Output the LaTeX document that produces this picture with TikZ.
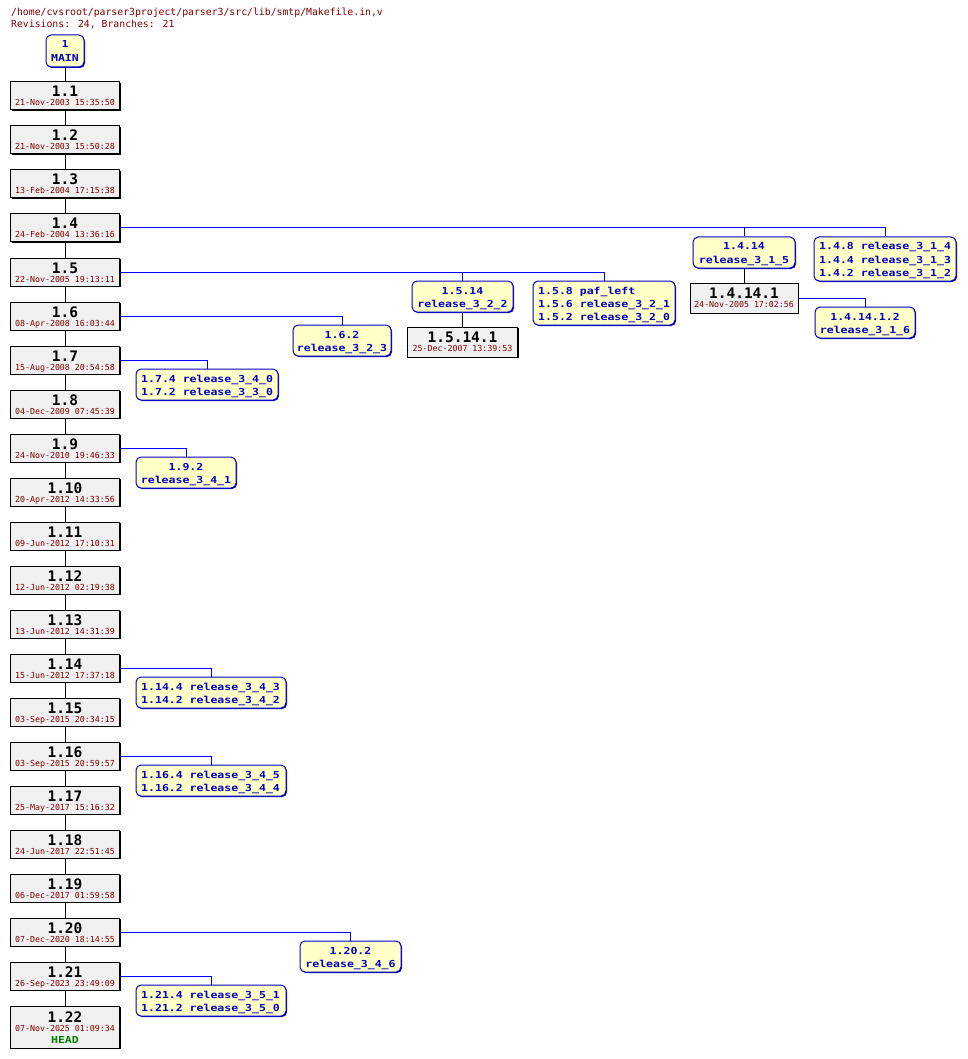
\documentclass[tikz,border=0pt]{standalone}
\usepackage{fontspec}
\usetikzlibrary{shadows}
\newfontfamily\tagfnt[FakeStretch=1.2]{DejaVu Sans Mono}
\newfontfamily\revfnt{DejaVu Sans Mono}
\definecolor{revfill}{HTML}{F0F0F0}
\definecolor{tagfill}{HTML}{FFFFC8}
\definecolor{tagblue}{HTML}{0000C0}
\definecolor{linkblue}{HTML}{0000FF}
\definecolor{datered}{HTML}{800000}
\definecolor{headgreen}{HTML}{008000}
\tikzset{
 revbox/.style={rectangle, draw=black, line width=1pt, fill=revfill, minimum width=109pt, minimum height=28pt, inner sep=0pt, drop shadow={shadow xshift=1pt, shadow yshift=-1pt, opacity=1, fill=black}},
 tagbox/.style={rectangle, rounded corners=5pt, draw=tagblue, line width=1pt, fill=tagfill, inner sep=0pt, minimum height=31pt, drop shadow={shadow xshift=1pt, shadow yshift=-1pt, opacity=1, fill=tagblue}},
 revnum/.style={anchor=base, inner sep=0pt, font=\revfnt\bfseries\fontsize{14.5}{16}\selectfont},
 revdate/.style={anchor=base, inner sep=0pt, text=datered, font=\revfnt\fontsize{8.3}{10}\selectfont},
 tagtext/.style={anchor=base, inner sep=0pt, text=tagblue, font=\tagfnt\bfseries\fontsize{9.6}{13}\selectfont},
 tagleft/.style={tagtext, anchor=base west},
 revlink/.style={draw=black, line width=1pt},
 branchlink/.style={draw=linkblue, line width=1pt},
 titletext/.style={anchor=base west, inner sep=0pt, text=datered, font=\revfnt\fontsize{9.8}{12}\selectfont},
}
\newcommand{\Rev}[4]{%
  \node[revbox] (#1) at (65,{#2+14}) {};
  \node[revnum] (#1n) at (65,{#2+15}) {#3};
  \node[revdate] (#1d) at (65,{#2+24}) {#4};
}
\begin{document}
\begin{tikzpicture}[x=1pt,y=-1pt]
\useasboundingbox[fill=white] (0,0) rectangle (967,1059);
% title
\node[titletext] (title1) at (11,16) {/home/cvsroot/parser3project/parser3/src/lib/smtp/Makefile.in,v};
\node[titletext] (title2) at (11,28) {Revisions: 24, Branches: 21};
% MAIN
\node[tagbox, minimum width=38pt, minimum height=32pt] (main) at (65,51) {};
\node[tagtext] (maina) at (65,48) {1};
\node[tagtext] (mainb) at (65,62) {MAIN};
% trunk
\Rev{r1}{82}{1.1}{21-Nov-2003 15:35:50}
\Rev{r2}{126}{1.2}{21-Nov-2003 15:50:28}
\Rev{r3}{170}{1.3}{13-Feb-2004 17:15:38}
\Rev{r4}{214}{1.4}{24-Feb-2004 13:36:16}
\Rev{r5}{258}{1.5}{22-Nov-2005 19:13:11}
\Rev{r6}{302}{1.6}{08-Apr-2008 16:03:44}
\Rev{r7}{346}{1.7}{15-Aug-2008 20:54:58}
\Rev{r8}{390}{1.8}{04-Dec-2009 07:45:39}
\Rev{r9}{434}{1.9}{24-Nov-2010 19:46:33}
\Rev{r10}{478}{1.10}{20-Apr-2012 14:33:56}
\Rev{r11}{522}{1.11}{09-Jun-2012 17:10:31}
\Rev{r12}{566}{1.12}{12-Jun-2012 02:19:38}
\Rev{r13}{610}{1.13}{13-Jun-2012 14:31:39}
\Rev{r14}{654}{1.14}{15-Jun-2012 17:37:18}
\Rev{r15}{698}{1.15}{03-Sep-2015 20:34:15}
\Rev{r16}{742}{1.16}{03-Sep-2015 20:59:57}
\Rev{r17}{786}{1.17}{25-May-2017 15:16:32}
\Rev{r18}{830}{1.18}{24-Jun-2017 22:51:45}
\Rev{r19}{874}{1.19}{06-Dec-2017 01:59:58}
\Rev{r20}{918}{1.20}{07-Dec-2020 18:14:55}
\Rev{r21}{962}{1.21}{26-Sep-2023 23:49:09}
\node[revbox, minimum height=42pt] (r22) at (65,1027) {};
\node[revnum] (r22n) at (65,1022) {1.22};
\node[revdate] (r22d) at (65,1031) {07-Nov-2025 01:09:34};
\node[revnum, text=headgreen, font=\tagfnt\bfseries\fontsize{9.6}{12}\selectfont] (r22h) at (65,1043) {HEAD};
% trunk links
\draw[revlink] (main) -- (r1);
\foreach \a/\b in {1/2,2/3,3/4,4/5,5/6,6/7,7/8,8/9,9/10,10/11,11/12,12/13,13/14,14/15,15/16,16/17,17/18,18/19,19/20,20/21,21/22}
  \draw[revlink] (r\a) -- (r\b);
% ---- branches off 1.4
\node[tagbox, minimum width=102pt] (b1414) at (744,252.5) {};
\node[tagtext] (b1414a) at (744,250) {1.4.14};
\node[tagtext] (b1414b) at (744,263) {release\_3\_1\_5};
\node[tagbox, minimum width=142pt, minimum height=44pt] (b148) at (885,259) {};
\node[tagleft] (b148a) at (819,250) {1.4.8 release\_3\_1\_4};
\node[tagleft] (b148b) at (819,263) {1.4.4 release\_3\_1\_3};
\node[tagleft] (b148c) at (819,276) {1.4.2 release\_3\_1\_2};
\draw[branchlink] (r4.east) -| (b1414.north);
\draw[branchlink] (r4.east) -| (b148.north);
\node[revbox, minimum width=108pt, minimum height=30pt] (r14141) at (744,298) {};
\node[revnum] (r14141n) at (744,298) {1.4.14.1};
\node[revdate] (r14141d) at (744,307) {24-Nov-2005 17:02:56};
\draw[revlink] (b1414) -- (r14141);
\node[tagbox, minimum width=100pt] (b141412) at (865,322.5) {};
\node[tagtext] (b141412a) at (865,320) {1.4.14.1.2};
\node[tagtext] (b141412b) at (865,333) {release\_3\_1\_6};
\draw[branchlink] (r14141.east) -| (b141412.north);
% ---- branches off 1.5
\node[tagbox, minimum width=101pt] (b1514) at (462.5,296.5) {};
\node[tagtext] (b1514a) at (462.5,294) {1.5.14};
\node[tagtext] (b1514b) at (462.5,307) {release\_3\_2\_2};
\node[tagbox, minimum width=142pt, minimum height=44pt] (b158) at (604,303) {};
\node[tagleft] (b158a) at (538,294) {1.5.8 paf\_left};
\node[tagleft] (b158b) at (538,307) {1.5.6 release\_3\_2\_1};
\node[tagleft] (b158c) at (538,320) {1.5.2 release\_3\_2\_0};
\draw[branchlink] (r5.east) -| (b1514.north);
\draw[branchlink] (r5.east) -| (b158.north);
\node[revbox, minimum width=110pt, minimum height=30pt] (r15141) at (462.5,342) {};
\node[revnum] (r15141n) at (462.5,342) {1.5.14.1};
\node[revdate] (r15141d) at (462.5,351) {25-Dec-2007 13:39:53};
\draw[revlink] (b1514) -- (r15141);
% ---- 1.6
\node[tagbox, minimum width=98pt] (b162) at (342,340.5) {};
\node[tagtext] (b162a) at (342,338) {1.6.2};
\node[tagtext] (b162b) at (342,351) {release\_3\_2\_3};
\draw[branchlink] (r6.east) -| (b162.north);
% ---- 1.7
\node[tagbox, minimum width=142pt] (b174) at (207,384.5) {};
\node[tagleft] (b174a) at (141,382) {1.7.4 release\_3\_4\_0};
\node[tagleft] (b174b) at (141,395) {1.7.2 release\_3\_3\_0};
\draw[branchlink] (r7.east) -| (b174.north);
% ---- 1.9
\node[tagbox, minimum width=100pt] (b192) at (186,472.5) {};
\node[tagtext] (b192a) at (186,470) {1.9.2};
\node[tagtext] (b192b) at (186,483) {release\_3\_4\_1};
\draw[branchlink] (r9.east) -| (b192.north);
% ---- 1.14
\node[tagbox, minimum width=150pt] (b1144) at (211,692.5) {};
\node[tagleft] (b1144a) at (141,690) {1.14.4 release\_3\_4\_3};
\node[tagleft] (b1144b) at (141,703) {1.14.2 release\_3\_4\_2};
\draw[branchlink] (r14.east) -| (b1144.north);
% ---- 1.16
\node[tagbox, minimum width=150pt] (b1164) at (211,780.5) {};
\node[tagleft] (b1164a) at (141,778) {1.16.4 release\_3\_4\_5};
\node[tagleft] (b1164b) at (141,791) {1.16.2 release\_3\_4\_4};
\draw[branchlink] (r16.east) -| (b1164.north);
% ---- 1.20
\node[tagbox, minimum width=101pt] (b1202) at (350.5,956.5) {};
\node[tagtext] (b1202a) at (350.5,954) {1.20.2};
\node[tagtext] (b1202b) at (350.5,967) {release\_3\_4\_6};
\draw[branchlink] (r20.east) -| (b1202.north);
% ---- 1.21
\node[tagbox, minimum width=150pt] (b1214) at (211,1000.5) {};
\node[tagleft] (b1214a) at (141,998) {1.21.4 release\_3\_5\_1};
\node[tagleft] (b1214b) at (141,1011) {1.21.2 release\_3\_5\_0};
\draw[branchlink] (r21.east) -| (b1214.north);
\end{tikzpicture}
\end{document}
